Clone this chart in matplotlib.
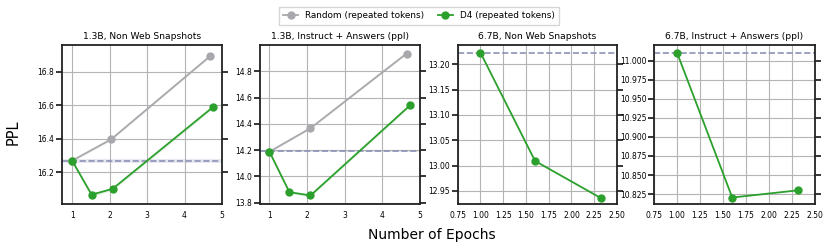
import numpy as np
import matplotlib
matplotlib.use('Agg')
import matplotlib.pyplot as plt
from matplotlib.lines import Line2D

titles = ['1.3B, Non Web Snapshots', '1.3B, Instruct + Answers (ppl)',
          '6.7B, Non Web Snapshots', '6.7B, Instruct + Answers (ppl)']

# random baseline (repeated tokens), only for 1.3B
rand_x = [[1, 2.04, 4.67], [1, 2.09, 4.64], None, None]
rand_y = [[16.268, 16.396, 16.893], [14.188, 14.367, 14.935], None, None]

# D4 (repeated tokens)
d4_x = [[1, 1.52, 2.08, 4.75], [1, 1.53, 2.09, 4.73], [1, 1.6, 2.32], [1, 1.6, 2.32]]
d4_y = [[16.268, 16.064, 16.099, 16.588], [14.188, 13.880, 13.855, 14.540],
        [13.223, 13.009, 12.936], [11.0105, 10.8205, 10.830]]

# single-epoch baseline (dashed)
base = [16.268, 14.19, 13.223, 11.0105]
base_band = [0.012, 0.006, 0.0, 0.0]

ylims = [(16.008, 16.962), (13.79, 15.0), (12.924, 13.238), (10.812, 11.0206)]
yticks = [[16.2, 16.4, 16.6, 16.8], [13.8, 14.0, 14.2, 14.4, 14.6, 14.8],
          [12.95, 13.00, 13.05, 13.10, 13.15, 13.20],
          [10.825, 10.850, 10.875, 10.900, 10.925, 10.950, 10.975, 11.000]]
ytick_fmt = ['%.1f', '%.1f', '%.2f', '%.3f']
xlims = [(0.73, 5.0), (0.75, 5.0), (0.75, 2.5), (0.75, 2.5)]
xticks = [[1, 2, 3, 4, 5], [1, 2, 3, 4, 5],
          [0.75, 1.0, 1.25, 1.5, 1.75, 2.0, 2.25, 2.5],
          [0.75, 1.0, 1.25, 1.5, 1.75, 2.0, 2.25, 2.5]]
xtick_fmt = ['%d', '%d', '%.2f', '%.2f']

gray = '#a9a9ad'
green = '#2ca02c'
base_col = '#8c92b4'

fig = plt.figure(figsize=(8.3, 2.49), dpi=100)
lefts = [0.0747, 0.3133, 0.5514, 0.788]
widths = [0.1928, 0.1928, 0.192, 0.194]

for i in range(4):
    ax = fig.add_axes([lefts[i], 0.1807, widths[i], 0.6386])
    ax.grid(True, color='#b4b4b4', linewidth=0.8, zorder=0)
    ax.set_axisbelow(True)
    ax.axhline(base[i], color=base_col, linestyle='--', linewidth=1.2, zorder=2)
    if base_band[i] > 0:
        ax.axhspan(base[i] - base_band[i], base[i] + base_band[i], color=base_col, alpha=0.2, lw=0, zorder=1)
    if rand_x[i] is not None:
        ry = np.array(rand_y[i])
        ax.fill_between(rand_x[i], ry - 0.006, ry + 0.006, color=gray, alpha=0.2, lw=0)
        ax.plot(rand_x[i], rand_y[i], color=gray, marker='o', markersize=5, linewidth=1.3, zorder=3)
        dy = np.array(d4_y[i])
        ax.fill_between(d4_x[i], dy - 0.01, dy + 0.01, color=green, alpha=0.12, lw=0)
    ax.plot(d4_x[i], d4_y[i], color=green, marker='o', markersize=5, linewidth=1.3, zorder=4)

    ax.set_xlim(*xlims[i])
    ax.set_ylim(*ylims[i])
    ax.set_xticks(xticks[i])
    ax.set_xticklabels([xtick_fmt[i] % v for v in xticks[i]])
    ax.set_yticks(yticks[i])
    ax.set_yticklabels([ytick_fmt[i] % v for v in yticks[i]])
    ax.tick_params(axis='x', length=0, pad=5, labelsize=5.5)
    ax.tick_params(axis='y', left=True, right=True, length=4, width=1.1, pad=1.5, labelsize=5.5)
    for s in ax.spines.values():
        s.set_linewidth(1.3)
        s.set_color('#222222')
    ax.set_title(titles[i], fontsize=6.6, pad=4)

handles = [Line2D([], [], color=gray, marker='o', markersize=5, linewidth=1.3),
           Line2D([], [], color=green, marker='o', markersize=5, linewidth=1.3)]
fig.legend(handles, ['Random (repeated tokens)', 'D4 (repeated tokens)'],
           loc='upper center', bbox_to_anchor=(0.505, 0.99), ncol=2, fontsize=6.4,
           frameon=True, edgecolor='#cccccc', fancybox=False, handlelength=1.7,
           columnspacing=1.5, borderpad=0.5)

fig.text(0.016, 0.47, 'PPL', rotation=90, fontsize=10.5, ha='center', va='center')
fig.text(0.52, 0.058, 'Number of Epochs', fontsize=10, ha='center', va='center')

fig.savefig('out.png', dpi=100)
